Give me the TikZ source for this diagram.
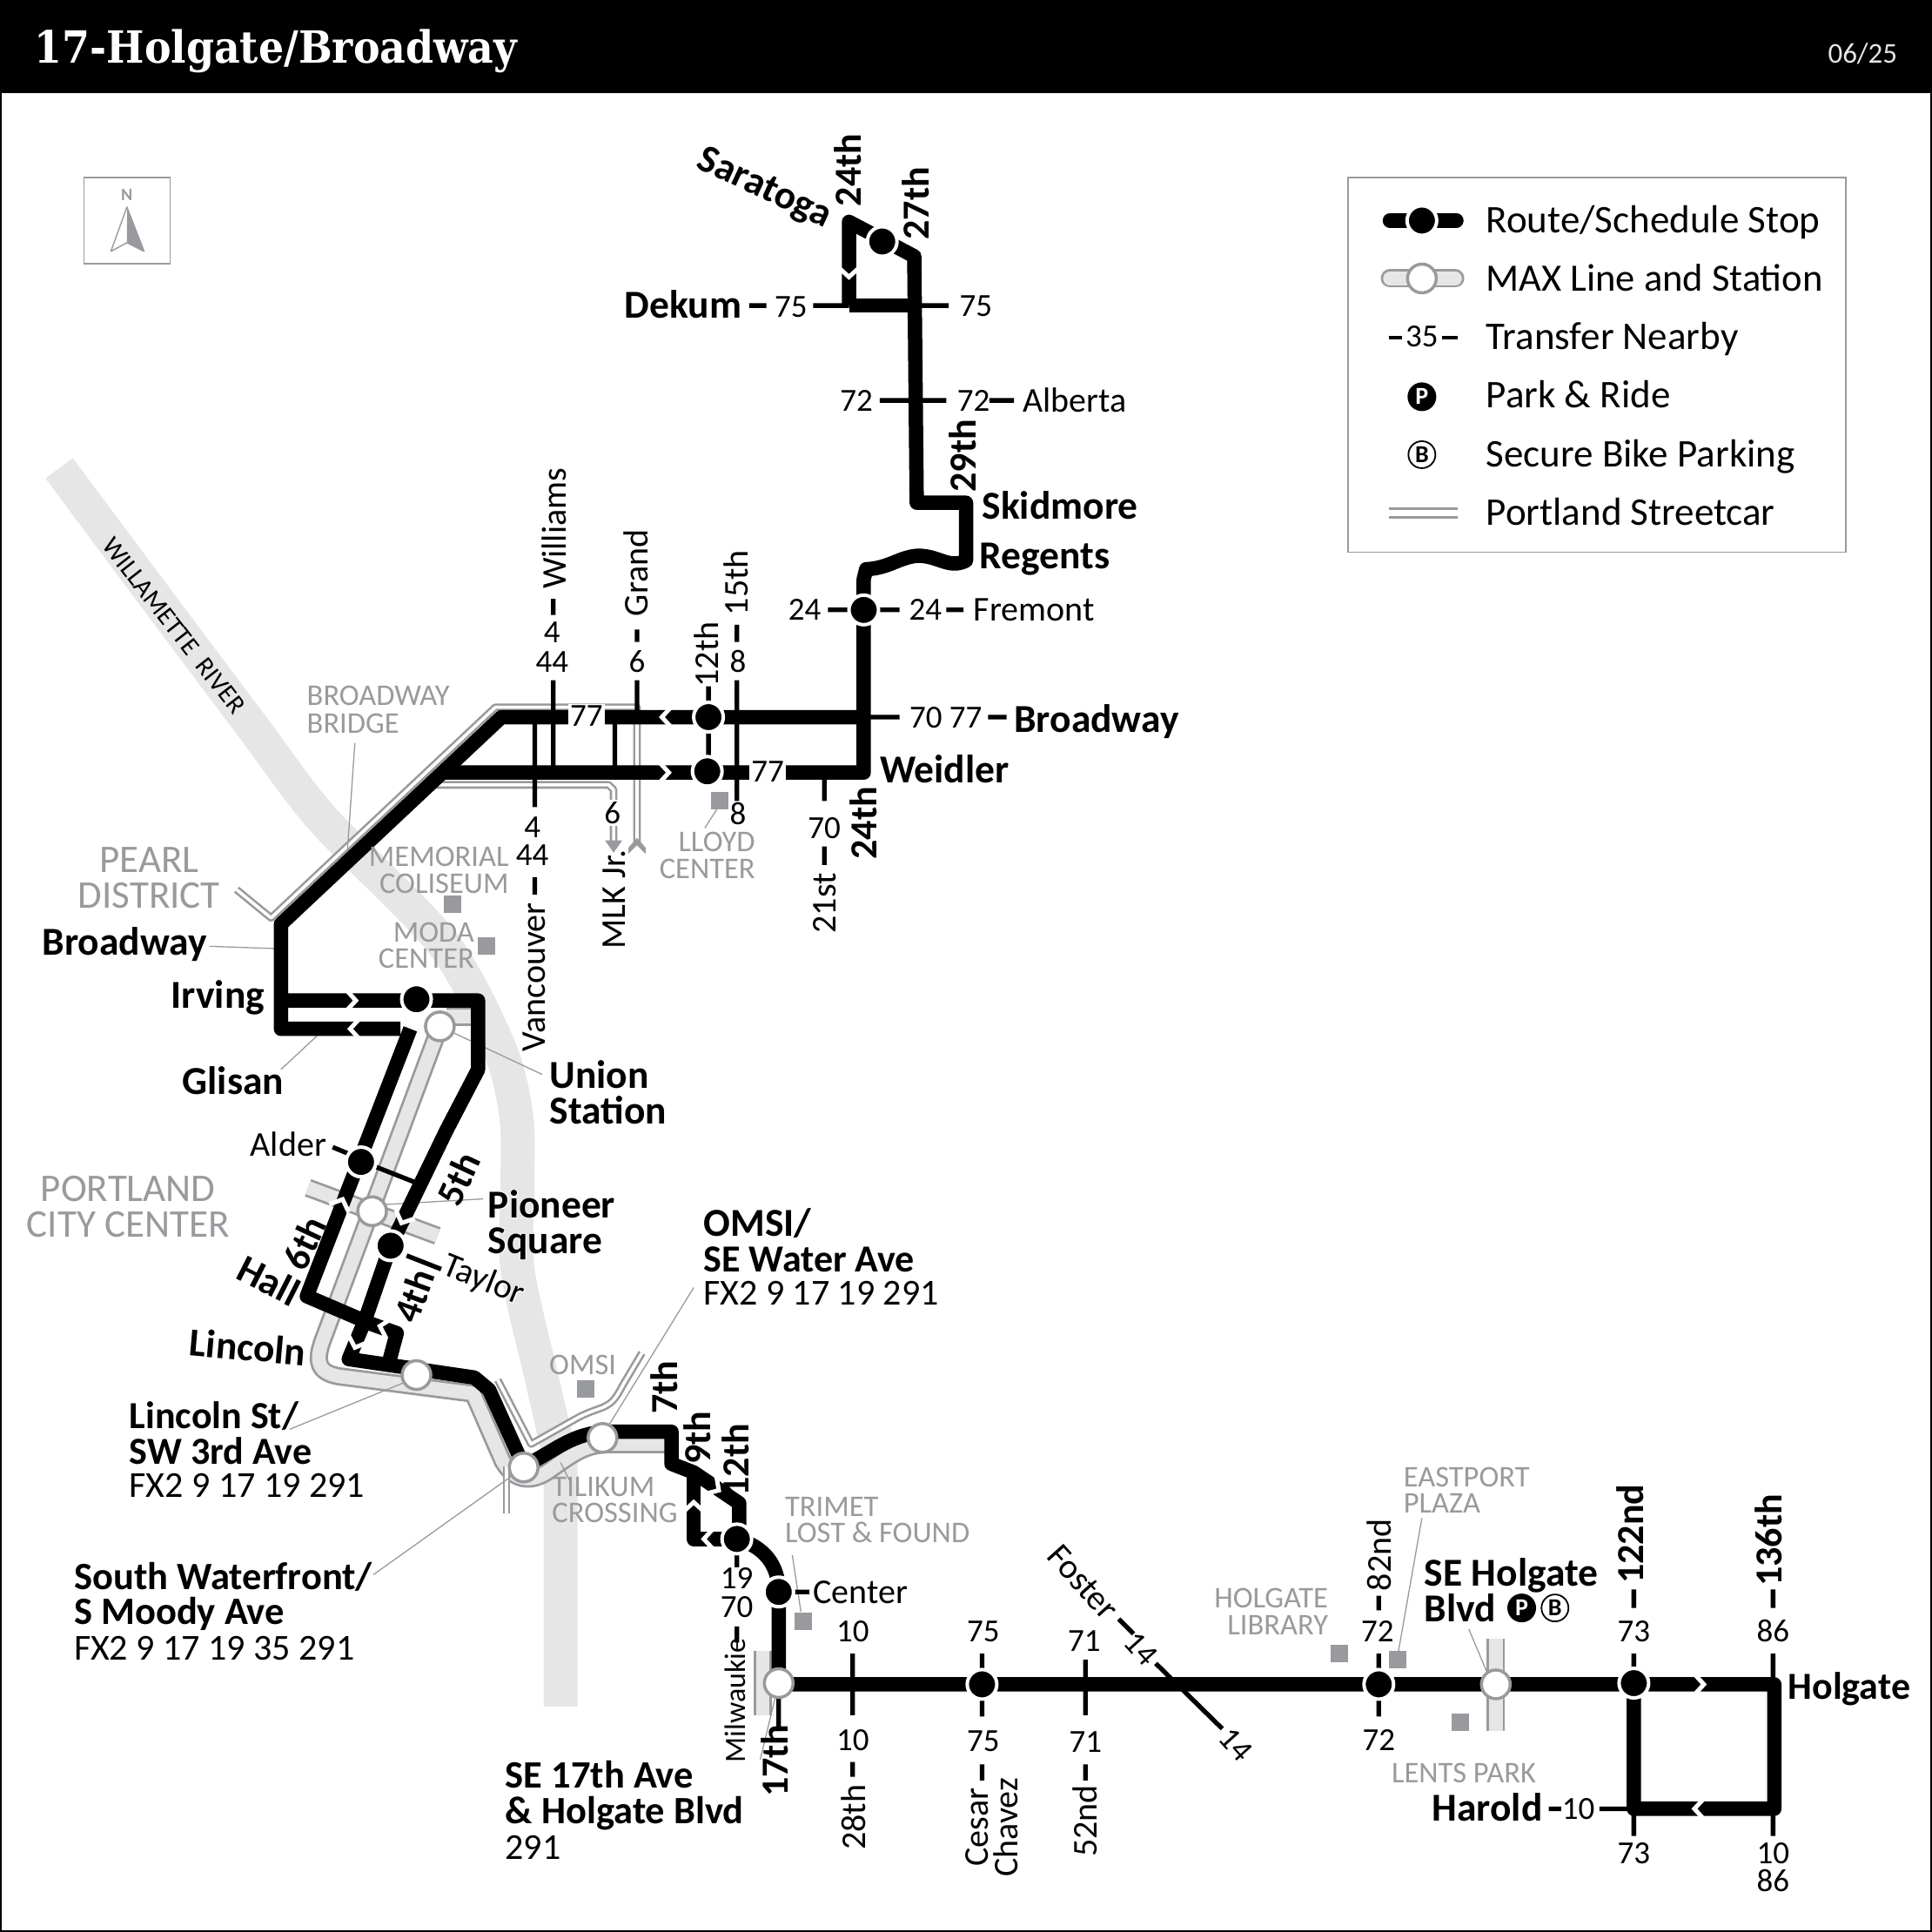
\documentclass[tikz,border=0pt]{standalone}
\usepackage{fontspec}
\setmainfont{Carlito}
\newfontfamily\titlefont{DejaVu Serif Condensed}
\newfontfamily\halob[UprightFont=* Bold,FakeBold=3]{Carlito}
\newfontfamily\halor[FakeBold=3]{Carlito}
\usetikzlibrary{calc}
\definecolor{riv}{HTML}{E6E6E6}
\definecolor{gy}{HTML}{999A9D}
\newcount\tc
\tikzset{
 lb/.style={inner sep=0pt,text depth=0pt,align=center},
 rg/.style={font=\fontsize{40}{40}\selectfont,text height=26pt},
 lg/.style={font=\fontsize{45}{45}\selectfont,text height=29pt},
 nm/.style={font=\fontsize{37}{37}\selectfont,text height=24pt},
 bd/.style={font=\fontsize{45.5}{45.5}\selectfont\bfseries,text height=29pt},
 bn/.style={font=\fontsize{44}{44}\selectfont\bfseries,text height=28pt},
 gt/.style={font=\fontsize{34.5}{34.5}\selectfont,text=gy,text height=22pt},
 gb/.style={font=\fontsize{45}{45}\selectfont,text=gy,text height=29pt},
 W/.style={anchor=west},E/.style={anchor=east},R/.style={rotate=90},
 route/.style={line width=16.5pt,line join=round,draw=black},
 tick/.style={line width=5.3pt,draw=black},
 lead/.style={line width=1.3pt,draw=gy},
 chev/.style={line width=5pt,draw=white,miter limit=10},
 stopdot/.style={circle,fill=black,draw=white,line width=4pt,minimum size=34pt,inner sep=0pt},
 station/.style={circle,fill=white,draw=gy,line width=3.5pt,minimum size=33pt,inner sep=0pt},
 scar/.style={draw=gy,line width=2.6pt,double=white,double distance=3.6pt,line join=round},
 sq/.style={fill=gy,minimum size=20pt,inner sep=0pt},
 pr/.style={circle,fill=black,text=white,inner sep=0pt,minimum size=33pt,font=\fontsize{28}{28}\selectfont\bfseries},
 bk/.style={circle,fill=white,draw=black,line width=1.8pt,inner sep=0pt,minimum size=31pt,font=\fontsize{28}{28}\selectfont\bfseries},
}
\newcommand\Tx[3][]{\global\advance\tc by 1\relax\node[lb,#1] (t\the\tc) at (#2) {#3};}
\newcommand\Hb[3][]{\global\advance\tc by 1\relax\node[lb,bd,font=\fontsize{45.5}{45.5}\selectfont\halob,text=white,#1] (t\the\tc) at (#2) {#3};\Tx[bd,#1]{#2}{#3}}
\newcommand\Hr[3][]{\global\advance\tc by 1\relax\node[lb,rg,font=\fontsize{40}{40}\selectfont\halor,text=white,#1] (t\the\tc) at (#2) {#3};\Tx[rg,#1]{#2}{#3}}
\newcommand\Chv[3]{\draw[chev,shift={(#1,#2)},rotate=#3] (-7pt,-12pt)--(4pt,0pt)--(-7pt,12pt);}
\newcommand\Band[1]{\draw[line width=21pt,draw=gy,line join=round] #1; \draw[line width=15.5pt,draw=riv,line join=round] #1;}
\begin{document}
\begin{tikzpicture}[x=1.41582pt,y=-1.41582pt]
\useasboundingbox (0,0) rectangle (1568,1568);
\fill[white] (0,0) rectangle (1568,1568);
% frame and header
\draw[line width=2pt] (0.7,75) rectangle (1567.3,1567.3);
\fill[black] (0,0) rectangle (1568,75);
\node[anchor=west,inner sep=0pt,text=white,font=\fontsize{51}{51}\selectfont\titlefont\bfseries,text height=34pt,text depth=0pt] (title) at (28,39) {17-Holgate/Broadway};
\node[anchor=east,inner sep=0pt,text=riv,font=\fontsize{33}{33}\selectfont,text height=21pt,text depth=0pt] (date) at (1540,44) {06/25};
% north
\draw[line width=1.4pt,draw=gy] (68,144) rectangle (138,214);
\node[inner sep=0pt,text=gy,font=\fontsize{20}{20}\selectfont\bfseries] (north) at (103,158) {N};
\fill[gy] (103,168)--(117,204)--(103,197)--cycle;
\draw[draw=gy,line width=1.4pt,line join=round] (103,168)--(117,204)--(103,197)--(90,204)--cycle;
% legend
\draw[line width=1.4pt,draw=gy] (1094,144) rectangle (1498,448);
\draw[line width=16.5pt,line cap=round] (1128,179)--(1182,179);
\node[stopdot] (l1) at (1154,179) {};
\Band{[line cap=round] (1128,226)--(1181,226)}
\node[station] (l2) at (1154,226) {};
\draw[line width=4pt] (1127,274)--(1138,274) (1170,274)--(1183,274);
\Tx[nm]{1154,273}{35}
\node[pr] (l3) at (1154,322) {P};
\node[bk] (l4) at (1154,369) {B};
\draw[line width=3pt,draw=gy] (1127,413)--(1183,413) (1127,420)--(1183,420);
\Tx[lg,W]{1206,179}{Route/Schedule Stop}
\Tx[lg,W,font=\fontsize{44.5}{44.5}\selectfont]{1206,226}{MAX Line and Station}
\Tx[lg,W]{1206,273}{Transfer Nearby}
\Tx[lg,W]{1206,321}{Park \& Ride}
\Tx[lg,W]{1206,369}{Secure Bike Parking}
\Tx[lg,W]{1206,416}{Portland Streetcar}
% river
\draw[riv,line width=39pt] plot[smooth,tension=0.5] coordinates {(48,380) (130,490) (205,590) (262,665) (359,765) (405,850) (419,906) (420,960) (420,1030) (440,1120) (455,1185)} -- (455,1385);
% MAX
\Band{(357,833)--(263,1085) .. controls (255,1105) and (258,1114) .. (275,1117) -- (384,1131) -- (408,1186) .. controls (418,1203) and (432,1203) .. (445,1194) .. controls (465,1180) and (475,1172) .. (495,1172) -- (540,1172)}
\Band{(250,964)--(355,1003)}
\Band{(362,825)--(386,825)}
\Band{(619,1340)--(619,1392)}
\Band{(1214,1330)--(1214,1405)}
% streetcar
\draw[scar] (192,722)--(220,745)--(402,574)--(517,574)--(517,686);
\draw[scar] (350,637)--(494,637)--(498,641)--(498,684);
\draw[scar] (404,1120)--(431,1172)--(470,1150) .. controls (490,1140) and (495,1145) .. (505,1125) -- (521,1098);
\draw[scar] (411,1190)--(411,1228);
\fill[gy] (491,682)--(505,682)--(498,692)--cycle;
\fill[gy] (510,688)--(517,680)--(524,688)--(524,693)--(517,686)--(510,693)--cycle;
% leaders
\draw[lead] (170,768)--(228,770) (258,840)--(228,868) (357,833)--(440,872) (305,978)--(392,973)
 (338,1118)--(235,1160) (425,1191)--(303,1278) (489,1165)--(563,1045) (455,1187)--(463,1203)
 (288,603)--(282,690) (583,655)--(572,672) (643,1262)--(650,1308) (1154,1232)--(1135,1340)
 (1192,1322)--(1208,1360) (632,1366)--(617,1428);
% squares
\foreach \p [count=\i] in {{367,734},{395,768},{475,1127},{652,1316},{1087,1342},{1134,1347},{1185,1398},{584,650}}
 \node[sq] (sq\i) at (\p) {};
% routes
\draw[route] (689,248)--(689,180)--(742,208)--(744,408)--(784,408)--(784,455) .. controls (770,462) and (762,451) .. (745,451) .. controls (730,452) and (722,461) .. (703,462) -- (701,470)--(701,627)--(360,627);
\draw[route] (689,248)--(744,248);
\draw[route] (701,582)--(407,582)--(228,750)--(228,835)--(325,835);
\draw[route] (228,812)--(388,812)--(388,868)--(362,918)--(317,1011)--(296,1072)--(283,1103)--(385,1118)--(397,1128)--(425,1190) .. controls (450,1178) and (465,1162) .. (495,1162) -- (545,1162)--(545,1188)--(563,1195)--(600,1220)--(600,1249);
\draw[route] (333,835)--(249,1052)--(298,1073);
\draw[route] (314,1112)--(322,1082)--(300,1074);
\draw[route] (563,1195)--(563,1249)--(598,1249);
\draw[route] (598,1249) .. controls (620,1255) and (632,1270) .. (632,1292) -- (632,1367)--(1440,1367)--(1440,1468)--(1326,1468)--(1326,1367);
% chevrons
\Chv{540}{582}{180}
\Chv{540}{627}{0}
\Chv{286}{812}{0}
\Chv{287}{835}{180}
\Chv{689}{222}{-90}
\Chv{277}{976}{68}
\Chv{327}{990}{246}
\Chv{289}{1091}{250}
\Chv{311}{1077}{165}
\Chv{563}{1222}{90}
\Chv{581}{1208}{-33}
\Chv{574}{1249}{180}
\Chv{1380}{1367}{0}
\Chv{1378}{1468}{180}
% ticks
\draw[tick] (608,248)--(622,248) (660,248)--(689,248) (742,248)--(770,248)
 (714,325)--(768,325) (803,325)--(823,325)
 (672,495)--(690,495) (712,495)--(730,495) (768,495)--(782,495)
 (701,582)--(730,582) (802,582)--(817,582)
 (669,627)--(669,650) (669,687)--(669,702)
 (575,557)--(575,569) (575,594)--(575,614)
 (598,552)--(598,650) (598,507)--(598,521)
 (517,552)--(517,582) (517,511)--(517,521)
 (499,582)--(499,627) (449,552)--(449,627) (449,486)--(449,499)
 (434,582)--(434,655) (434,712)--(434,726)
 (270,931)--(282,936) (305,947)--(338,960) (330,1019)--(358,1030)
 (598,1262)--(598,1272) (598,1320)--(598,1333) (643,1292)--(657,1292)
 (692,1342)--(692,1392) (692,1430)--(692,1442)
 (797,1342)--(797,1393) (797,1432)--(797,1445)
 (881,1347)--(881,1392) (881,1432)--(881,1445)
 (908,1314)--(920,1326) (938,1350)--(992,1403)
 (1119,1295)--(1119,1307) (1119,1342)--(1119,1393)
 (1326,1290)--(1326,1305) (1326,1342)--(1326,1360) (1326,1470)--(1326,1490)
 (1439,1290)--(1439,1305) (1439,1342)--(1439,1365) (1439,1470)--(1439,1490)
 (1257,1468)--(1267,1468) (1298,1468)--(1326,1468)
 (632,1367)--(632,1405);
% stops
\foreach \n/\p in {a/{716,196},b/{701,495},c/{575,582},d/{574,626},e/{338,811},f/{293,943},g/{317,1011},h/{598,1249},i/{632,1292},j/{797,1367},k/{1119,1367},m/{1326,1366}}
 \node[stopdot] (s\n) at (\p) {};
\foreach \n/\p in {a/{357,833},b/{302,983},c/{338,1116},d/{425,1191},e/{489,1167},f/{632,1366},g/{1214,1367}}
 \node[station] (m\n) at (\p) {};
% gray labels
\Tx[gb]{121,698}{PEARL}
\Tx[gb]{121,727}{DISTRICT}
\Tx[gb]{104,965}{PORTLAND}
\Tx[gb]{104,994}{CITY CENTER}
\Tx[gt,W]{249,565}{BROADWAY}
\Tx[gt,W]{249,587}{BRIDGE}
\Tx[gt,E]{413,695}{MEMORIAL}
\Tx[gt,E]{413,717}{COLISEUM}
\Tx[gt,E]{385,757}{MODA}
\Tx[gt,E]{385,778}{CENTER}
\Tx[gt]{473,1108}{OMSI}
\Tx[gt,W]{448,1207}{TILIKUM}
\Tx[gt,W]{448,1228}{CROSSING}
\Tx[gt,W]{637,1223}{TRIMET}
\Tx[gt,W]{637,1244}{LOST \& FOUND}
\Tx[gt,E]{613,683}{LLOYD}
\Tx[gt,E]{613,705}{CENTER}
\Tx[gt,W]{1139,1199}{EASTPORT}
\Tx[gt,W]{1139,1220}{PLAZA}
\Tx[gt,E]{1078,1297}{HOLGATE}
\Tx[gt,E]{1078,1319}{LIBRARY}
\Tx[gt]{1188,1439}{LENTS PARK}
\Tx[font=\fontsize{30}{30}\selectfont,text height=19pt,rotate=-52]{141,508}{WILLAMETTE\ \ RIVER}
% bold labels
\Tx[bd,rotate=-25]{621,151}{Saratoga}
\Tx[bn,R]{689,138}{24th}
\Tx[bn,R]{744,165}{27th}
\Tx[bd,E]{602,248}{Dekum}
\Tx[bn,R]{782,370}{29th}
\Tx[bd,W]{797,411}{Skidmore}
\Tx[bd,W]{795,451}{Regents}
\Tx[bd,W]{823,584}{Broadway}
\Tx[bd,W]{714,625}{Weidler}
\Tx[bn,R]{702,668}{24th}
\Tx[bd,E]{168,765}{Broadway}
\Tx[bd,E]{215,808}{Irving}
\Tx[bd,W]{148,878}{Glisan}
\Hb[W]{446,873}{Union}
\Hb[W]{446,902}{Station}
\Hb[W]{396,978}{Pioneer}
\Hb[W]{396,1007}{Square}
\Tx[bn,rotate=65]{373,957}{5th}
\Tx[bn,rotate=65]{248,1009}{6th}
\Tx[bn,rotate=70]{337,1052}{4th}
\Tx[bd,rotate=-27]{218,1040}{Hall}
\Tx[bd,rotate=-5]{201,1094}{Lincoln}
\Tx[bn,R]{540,1126}{7th}
\Tx[bn,R]{567,1167}{9th}
\Tx[bn,R]{598,1185}{12th}
\Tx[bd,W]{571,993}{OMSI/}
\Tx[bd,W,font=\fontsize{44}{44}\selectfont\bfseries]{571,1022}{SE Water Ave}
\Tx[rg,W,font=\fontsize{42}{42}\selectfont]{571,1050}{FX2 9 17 19 291}
\Tx[bd,W,font=\fontsize{44}{44}\selectfont\bfseries]{105,1149}{Lincoln St/}
\Tx[bd,W,font=\fontsize{44}{44}\selectfont\bfseries]{105,1178}{SW 3rd Ave}
\Tx[rg,W,font=\fontsize{42}{42}\selectfont]{105,1206}{FX2 9 17 19 291}
\Tx[bd,W,font=\fontsize{44.5}{44.5}\selectfont\bfseries]{60,1280}{South Waterfront/}
\Tx[bd,W,font=\fontsize{44.5}{44.5}\selectfont\bfseries]{60,1308}{S Moody Ave}
\Tx[rg,W,font=\fontsize{42}{42}\selectfont]{60,1338}{FX2 9 17 19 35 291}
\Tx[bd,W,font=\fontsize{44.5}{44.5}\selectfont\bfseries]{410,1441}{SE 17th Ave}
\Tx[bd,W,font=\fontsize{44.5}{44.5}\selectfont\bfseries]{410,1470}{\& Holgate Blvd}
\Tx[rg,W,font=\fontsize{42}{42}\selectfont]{410,1500}{291}
\Tx[bn,R]{630,1429}{17th}
\Tx[bd,W]{1156,1277}{SE Holgate}
\Tx[bd,W]{1156,1306}{Blvd}
\node[pr] (pp) at (1235,1305) {P};
\node[bk] (bb) at (1262,1305) {B};
\Tx[bn,R]{1324,1245}{122nd}
\Tx[bn,R]{1436,1250}{136th}
\Tx[bd,W,font=\fontsize{44}{44}\selectfont\bfseries]{1451,1369}{Holgate}
\Tx[bd,E]{1252,1468}{Harold}
% regular labels
\Tx[nm]{642,249}{75}
\Tx[nm]{792,248}{75}
\Tx[nm]{695,325}{72}
\Tx[nm]{790,325}{72}
\Tx[rg,W]{830,325}{Alberta}
\Tx[nm]{653,495}{24}
\Tx[nm]{751,495}{24}
\Tx[rg,W]{790,495}{Fremont}
\Tx[nm,W]{738,582}{70 77}
\Tx[nm,fill=white,minimum width=42pt,minimum height=28pt]{476,581}{77}
\Tx[nm,fill=white,minimum width=42pt,minimum height=28pt]{623,626}{77}
\Tx[nm]{669,672}{70}
\Tx[rg,R]{669,733}{21st}
\Tx[rg,R]{574,531}{12th}
\Tx[nm]{599,537}{8}
\Tx[rg,R]{598,473}{15th}
\Tx[nm]{599,661}{8}
\Tx[nm]{517,537}{6}
\Tx[rg,R]{517,465}{Grand}
\Tx[nm,fill=white,minimum width=24pt,minimum height=30pt]{497,660}{6}
\Tx[rg,R]{498,730}{MLK Jr.}
\Tx[nm]{448,513}{4}
\Tx[nm]{448,537}{44}
\Tx[rg,R]{450,429}{Williams}
\Tx[nm]{432,671}{4}
\Tx[nm]{432,694}{44}
\Tx[rg,R]{433,793}{Vancouver}
\Tx[rg,E]{265,929}{Alder}
\Hr[rotate=-22]{393,1038}{Taylor}
\Tx[nm]{598,1281}{19}
\Tx[nm]{598,1304}{70}
\Tx[rg,R,font=\fontsize{34}{34}\selectfont,text height=22pt]{597,1380}{Milwaukie}
\Tx[rg,W]{660,1292}{Center}
\Tx[nm]{692,1324}{10}
\Tx[nm]{692,1412}{10}
\Tx[rg,R]{693,1475}{28th}
\Tx[nm]{798,1324}{75}
\Tx[nm]{798,1413}{75}
\Tx[rg,R]{793,1483}{Cesar}
\Tx[rg,R]{817,1483}{Chavez}
\Tx[nm]{880,1332}{71}
\Tx[nm]{881,1414}{71}
\Tx[rg,R]{881,1478}{52nd}
\Tx[rg,rotate=-48]{879,1284}{Foster}
\Tx[nm,rotate=-48]{926,1338}{14}
\Tx[nm,rotate=-48]{1003,1416}{14}
\Tx[rg,R]{1120,1262}{82nd}
\Tx[nm]{1118,1324}{72}
\Tx[nm]{1119,1412}{72}
\Tx[nm]{1326,1324}{73}
\Tx[nm]{1326,1504}{73}
\Tx[nm]{1439,1324}{86}
\Tx[nm]{1439,1504}{10}
\Tx[nm]{1439,1527}{86}
\Tx[nm]{1281,1468}{10}
\end{tikzpicture}
\end{document}
